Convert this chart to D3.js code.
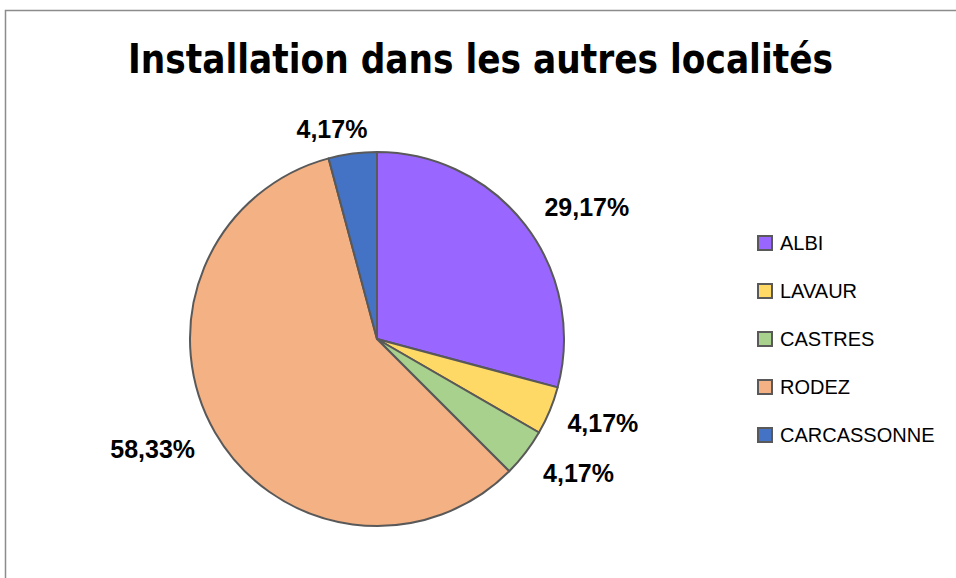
<!DOCTYPE html>
<html>
<head>
<meta charset="utf-8">
<script src="https://cdn.jsdelivr.net/npm/d3@7"></script>
<style>
  body { margin: 0; background: #fff; }
</style>
</head>
<body>
<div id="chart"></div>
<script>
var width = 956, height = 578;

// data (24 answers in all)
var cities = ['ALBI', 'LAVAUR', 'CASTRES', 'RODEZ', 'CARCASSONNE'];
var counts = [7, 1, 1, 14, 1];
var colors = ['#9966FF', '#FFD966', '#A9D18E', '#F4B183', '#4472C4'];
var labels = ['29,17%', '4,17%', '4,17%', '58,33%', '4,17%'];
// where each percent label sits (angle in degrees, distance from centre)
var labelPos = [[57.8, 248], [110.4, 241], [123.6, 242], [243.8, 250], [-12.1, 215]];

var svg = d3.select('#chart').append('svg')
    .attr('width', width)
    .attr('height', height);

// frame of the chart area
svg.append('rect')
    .attr('x', 5.5).attr('y', 10.5)
    .attr('width', width + 20).attr('height', height + 20)
    .attr('fill', '#fff')
    .attr('stroke', '#8c8c8c')
    .attr('stroke-width', 1.5);

svg.append('text')
    .attr('x', 128).attr('y', 73)
    .attr('textLength', 705)
    .attr('lengthAdjust', 'spacingAndGlyphs')
    .style('font-family', '"Liberation Sans Narrow", "DejaVu Sans Condensed", sans-serif')
    .style('font-weight', 'bold')
    .style('font-size', '40px')
    .attr('fill', '#000')
    .text('Installation dans les autres localités');

var cx = 377, cy = 339, r = 187;

var pie = d3.pie().sort(null).value(function(d){ return d; });
var arc = d3.arc().innerRadius(0).outerRadius(r);
var slices = pie(counts);

var g = svg.append('g').attr('transform', 'translate(' + cx + ',' + cy + ')');

g.selectAll('path')
    .data(slices)
    .enter().append('path')
    .attr('d', arc)
    .attr('fill', function(d, i){ return colors[i]; })
    .attr('stroke', '#595959')
    .attr('stroke-width', 2)
    .attr('stroke-linejoin', 'round');

g.selectAll('text.pct')
    .data(slices)
    .enter().append('text')
    .attr('class', 'pct')
    .attr('x', function(d, i){ return labelPos[i][1] * Math.sin(labelPos[i][0] * Math.PI / 180); })
    .attr('y', function(d, i){ return -labelPos[i][1] * Math.cos(labelPos[i][0] * Math.PI / 180); })
    .attr('text-anchor', 'middle')
    .attr('dy', '0.36em')
    .style('font-family', '"Liberation Sans", Arial, sans-serif')
    .style('font-weight', 'bold')
    .style('font-size', '25px')
    .attr('fill', '#000')
    .text(function(d, i){ return labels[i]; });

// legend
var legendY = d3.scalePoint().domain(cities).range([243, 435]);

var leg = svg.selectAll('g.leg')
    .data(cities)
    .enter().append('g')
    .attr('class', 'leg')
    .attr('transform', function(d){ return 'translate(758,' + legendY(d) + ')'; });

leg.append('rect')
    .attr('x', 0).attr('y', -7)
    .attr('width', 14).attr('height', 14)
    .attr('fill', function(d, i){ return colors[i]; })
    .attr('stroke', '#595959')
    .attr('stroke-width', 2);

leg.append('text')
    .attr('x', 22).attr('y', 0)
    .attr('dy', '0.36em')
    .style('font-family', '"Liberation Sans", Arial, sans-serif')
    .style('font-size', '20px')
    .attr('fill', '#000')
    .text(function(d){ return d; });
</script>
</body>
</html>
